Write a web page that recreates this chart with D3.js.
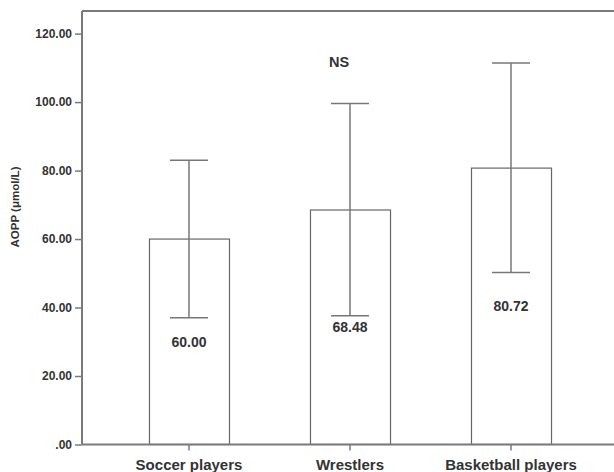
<!DOCTYPE html>
<html>
<head>
<meta charset="utf-8">
<script src="https://cdn.jsdelivr.net/npm/d3@7"></script>
<style>
  html, body { margin: 0; padding: 0; background: #fff; }
  svg { display: block; }
  text { font-family: "Liberation Sans", Arial, sans-serif; font-weight: bold; fill: #333; }
</style>
</head>
<body>
<svg id="chart" width="614" height="472"></svg>
<script>
const categories = ["Soccer players", "Wrestlers", "Basketball players"];
const means = [60.00, 68.48, 80.72];
const upper = [83.0, 99.6, 111.4];
const lower = [37.0, 37.6, 50.2];
const yTicks = [0, 20, 40, 60, 80, 100, 120];
const yLabel = "AOPP (μmol/L)";
const annotation = "NS";

(function () {
const svg = d3.select("#chart");
const pLeft = 82, pRight = 618, pTop = 11, pBottom = 444.5;

const x = d3.scaleBand().domain(categories).range([pLeft, pRight])
  .paddingInner(0.503).paddingOuter(0.416);
const y = d3.scaleLinear().domain([0, 126.6]).range([pBottom, pTop]);

const axisColor = "#7a7a7a";

// frame top line
svg.append("line").attr("x1", pLeft).attr("x2", 614).attr("y1", pTop).attr("y2", pTop)
  .attr("stroke", axisColor).attr("stroke-width", 2);

// bars
svg.selectAll("rect.bar").data(categories).enter().append("rect")
  .attr("class", "bar")
  .attr("x", d => x(d) + 0.5)
  .attr("y", (d, i) => y(means[i]))
  .attr("width", x.bandwidth())
  .attr("height", (d, i) => pBottom - y(means[i]))
  .attr("fill", "#fff")
  .attr("stroke", "#666")
  .attr("stroke-width", 1.2);

// error bars
const capW = 38;
const cx = d => x(d) + x.bandwidth() / 2;
const eb = svg.selectAll("g.eb").data(categories).enter().append("g").attr("class", "eb");
eb.append("line")
  .attr("x1", cx).attr("x2", cx)
  .attr("y1", (d, i) => y(upper[i])).attr("y2", (d, i) => y(lower[i]))
  .attr("stroke", "#777").attr("stroke-width", 1.5);
eb.append("line")
  .attr("x1", d => cx(d) - capW / 2).attr("x2", d => cx(d) + capW / 2)
  .attr("y1", (d, i) => y(upper[i])).attr("y2", (d, i) => y(upper[i]))
  .attr("stroke", "#777").attr("stroke-width", 1.5);
eb.append("line")
  .attr("x1", d => cx(d) - capW / 2).attr("x2", d => cx(d) + capW / 2)
  .attr("y1", (d, i) => y(lower[i])).attr("y2", (d, i) => y(lower[i]))
  .attr("stroke", "#777").attr("stroke-width", 1.5);

// value labels at mid-bar
svg.selectAll("text.val").data(categories).enter().append("text")
  .attr("class", "val")
  .attr("x", cx)
  .attr("y", (d, i) => y(means[i] / 2) + 5)
  .attr("text-anchor", "middle")
  .attr("font-size", 14)
  .text((d, i) => means[i].toFixed(2));

// y axis
const fmt = v => { const s = d3.format(".2f")(v); return s.startsWith("0.") ? s.slice(1) : s; };
const yAxis = svg.append("g").attr("transform", `translate(${pLeft},0)`)
  .call(d3.axisLeft(y).tickValues(yTicks).tickSize(7).tickPadding(3).tickFormat(fmt));
yAxis.select(".domain").attr("stroke", axisColor).attr("stroke-width", 2)
  .attr("d", `M0,${pTop}V${pBottom}`);
yAxis.selectAll(".tick line").attr("stroke", axisColor).attr("stroke-width", 1.5);
yAxis.selectAll(".tick text").attr("font-size", 12).attr("fill", "#333")
  .attr("font-family", "Liberation Sans, Arial, sans-serif").attr("font-weight", "bold");

// x axis
const xAxis = svg.append("g").attr("transform", `translate(0,${pBottom})`)
  .call(d3.axisBottom(x).tickSize(6).tickPadding(9));
xAxis.select(".domain").attr("stroke", axisColor).attr("stroke-width", 2)
  .attr("d", `M${pLeft},0H614`);
xAxis.selectAll(".tick line").attr("stroke", axisColor).attr("stroke-width", 1.5);
xAxis.selectAll(".tick text").attr("font-size", 15).attr("fill", "#333")
  .attr("font-family", "Liberation Sans, Arial, sans-serif").attr("font-weight", "bold");

// y label
svg.append("text")
  .attr("transform", `translate(19,207) rotate(-90)`)
  .attr("text-anchor", "middle")
  .attr("font-size", 11.5)
  .text(yLabel);

// NS annotation
svg.append("text")
  .attr("x", cx("Wrestlers") - 11)
  .attr("y", 67)
  .attr("text-anchor", "middle")
  .attr("font-size", 14.5)
  .text(annotation);
})();
</script>
</body>
</html>
